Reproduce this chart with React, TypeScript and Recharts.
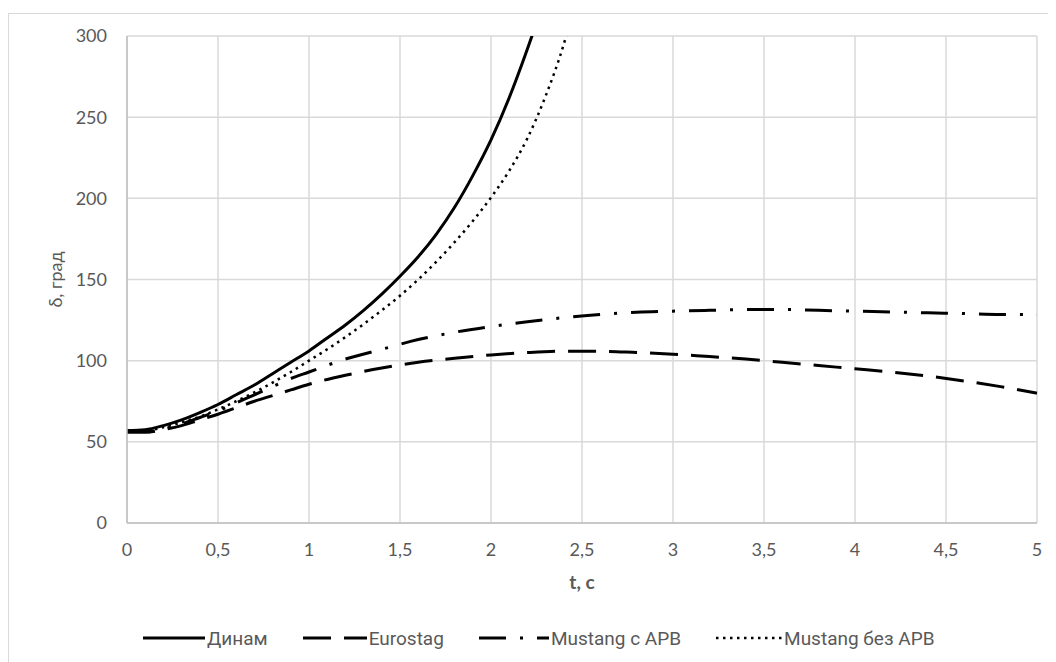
import React from 'react';
import { LineChart, Line, XAxis, YAxis, CartesianGrid } from 'recharts';

// time points (s)
const tDinam = [0, 0.1, 0.2, 0.3, 0.4, 0.5, 0.6, 0.7, 0.8, 0.9, 1.0, 1.1, 1.2, 1.3, 1.4, 1.5, 1.6, 1.7, 1.8, 1.9, 2.0, 2.1, 2.2, 2.25];
const tNoArv = [0, 0.1, 0.2, 0.3, 0.4, 0.5, 0.6, 0.7, 0.8, 0.9, 1.0, 1.1, 1.2, 1.3, 1.4, 1.5, 1.6, 1.7, 1.8, 1.9, 2.0, 2.1, 2.2, 2.3, 2.4, 2.45];
const tLong = [0, 0.1, 0.2, 0.3, 0.4, 0.5, 0.6, 0.7, 0.8, 0.9, 1.0, 1.2, 1.4, 1.6, 1.8, 2.0, 2.2, 2.4, 2.6, 2.8, 3.0, 3.2, 3.4, 3.6, 3.8, 4.0, 4.2, 4.4, 4.6, 4.8, 5.0];

// δ, град
const dinam = [57, 57.5, 60, 63.5, 68, 73, 79, 85, 92, 99, 106, 114, 122, 131, 141, 152, 164, 178, 194.5, 214, 236, 262, 292, 308];
const mustangNoArv = [57, 57, 59, 62, 65.5, 70, 75, 80.5, 86.5, 93, 100, 107, 114.5, 122.5, 131, 140, 150, 161, 173, 186, 200.5, 217, 237, 263, 295, 315];
const mustangArv = [56, 56, 58, 61, 65, 69, 74, 79, 84, 89, 93, 101, 107, 113, 117.5, 121, 124, 126.5, 128.5, 129.8, 130.5, 131, 131.5, 131.5, 131, 130.5, 130, 129.5, 129, 128.5, 128.5];
const eurostag = [56, 56, 57.5, 60, 63.5, 67, 71, 75, 78.5, 82, 85.5, 91, 95.5, 99, 101.5, 103.5, 105, 105.8, 105.8, 105, 104, 102.5, 101, 99, 97, 95, 93, 90.5, 87.5, 84, 80];

const xTicks = [0, 0.5, 1, 1.5, 2, 2.5, 3, 3.5, 4, 4.5, 5];
const yTicks = [0, 50, 100, 150, 200, 250, 300];

const toPoints = (ts: number[], vs: number[]) => ts.map((t, i) => ({ t, v: vs[i] }));

const series = [
  { name: 'Динам', data: toPoints(tDinam, dinam), dash: undefined, width: 3, sample: 62 },
  { name: 'Eurostag', data: toPoints(tLong, eurostag), dash: '28 13', width: 3, sample: 64 },
  { name: 'Mustang с АРВ', data: toPoints(tLong, mustangArv), dash: '27 14 3 14', width: 3, sample: 70 },
  { name: 'Mustang без АРВ', data: toPoints(tNoArv, mustangNoArv), dash: '2.5 4.5', width: 2.5, sample: 66 },
];

const FONT = 'Lato, "Open Sans", sans-serif';
const TEXT = '#595959';

const fmt = (v: number) => String(v).replace('.', ',');

const YLabel = (props: any) => {
  const { viewBox } = props;
  const x = viewBox.x + 28;
  const y = viewBox.y + viewBox.height / 2;
  return (
    <text x={x} y={y} transform={`rotate(-90, ${x}, ${y})`} textAnchor="middle" dominantBaseline="central"
      fill={TEXT} fontSize={18} fontFamily={FONT}>
      δ, град
    </text>
  );
};

export default function App() {
  return (
    <div style={{ position: 'relative', width: 1048, height: 654, fontFamily: FONT }}>
      <div style={{ position: 'absolute', left: 0, top: 5, right: 0, bottom: 0, borderLeft: '1px solid #D9D9D9', borderTop: '1px solid #D9D9D9' }} />
      <LineChart width={1048} height={654} margin={{ top: 28, right: 19, bottom: 69, left: 19 }} style={{ position: 'absolute', left: 0, top: 0 }}>
        <CartesianGrid stroke="#D9D9D9" strokeWidth={1.5} />
        <XAxis
          type="number"
          dataKey="t"
          domain={[0, 5]}
          ticks={xTicks}
          tickFormatter={fmt}
          tickLine={false}
          tickMargin={14}
          axisLine={{ stroke: '#BFBFBF', strokeWidth: 1.5 }}
          tick={{ fill: TEXT, fontSize: 18, fontFamily: FONT }}
          height={70}
          label={{ value: 't, с', position: 'insideBottom', offset: 4, fill: TEXT, fontSize: 19, fontWeight: 700, fontFamily: FONT }}
        />
        <YAxis
          type="number"
          domain={[0, 300]}
          ticks={yTicks}
          allowDataOverflow
          tickLine={false}
          tickMargin={14}
          axisLine={{ stroke: '#BFBFBF', strokeWidth: 1.5 }}
          tick={{ fill: TEXT, fontSize: 18, fontFamily: FONT }}
          width={100}
          label={<YLabel />}
        />
        {series.map((s) => (
          <Line
            key={s.name}
            data={s.data}
            dataKey="v"
            name={s.name}
            type="monotone"
            stroke="#000"
            strokeWidth={s.width}
            strokeDasharray={s.dash}
            dot={false}
            activeDot={false}
            isAnimationActive={false}
          />
        ))}
      </LineChart>
      <div style={{ position: 'absolute', left: 135, top: 619, height: 22, display: 'flex', alignItems: 'center', gap: 35, fontSize: 19, color: TEXT, fontFamily: 'Roboto, sans-serif' }}>
        {series.map((s) => (
          <div key={s.name} style={{ display: 'flex', alignItems: 'center', gap: 2 }}>
            <svg width={s.sample} height={10}>
              <line x1={0} y1={5} x2={s.sample} y2={5} stroke="#000" strokeWidth={s.width} strokeDasharray={s.dash} />
            </svg>
            <span>{s.name}</span>
          </div>
        ))}
      </div>
    </div>
  );
}
